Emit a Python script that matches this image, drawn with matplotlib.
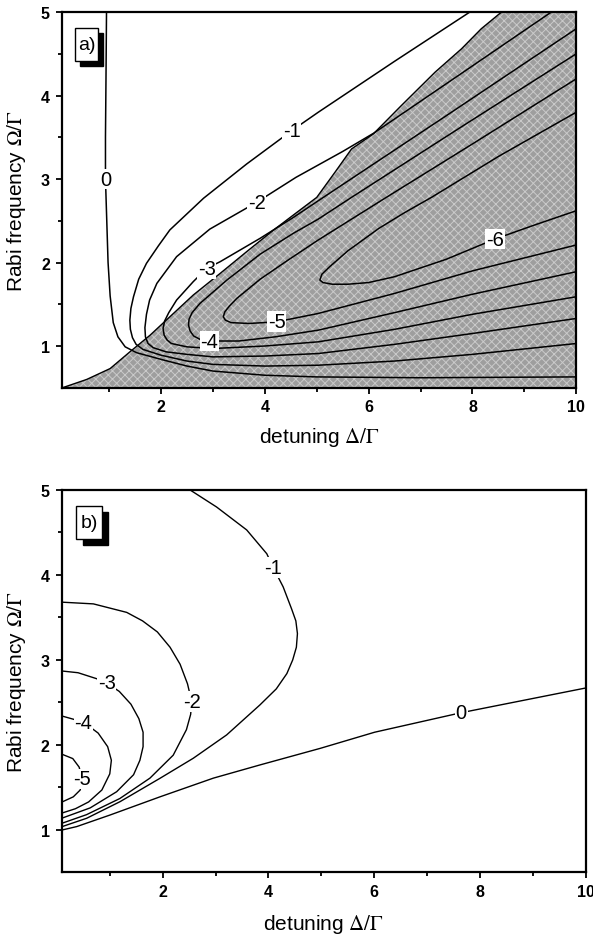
import numpy as np
import matplotlib
matplotlib.use("Agg")
import matplotlib.pyplot as plt
from matplotlib.patches import Rectangle

plt.rcParams['font.family'] = ['Liberation Sans', 'DejaVu Sans']
plt.rcParams['mathtext.fontset'] = 'stix'
plt.rcParams['hatch.linewidth'] = 0.7

# ---------------- panel a) contour curves (detuning, Rabi frequency) ----------------
a_levels = ['0', '-1', '-2', '-3', '-4', '-5', '-6']

a0_x = [0.95, 0.94, 0.93, 0.93, 0.95, 0.98, 1.02, 1.08, 1.17, 1.31, 1.53, 2.0, 2.5, 3.0, 4.0, 5.0, 7.0, 10.0]
a0_y = [5.0, 4.2, 3.5, 3.0, 2.6, 2.0, 1.6, 1.28, 1.11, 0.99, 0.92, 0.84, 0.76, 0.70, 0.65, 0.63, 0.62, 0.63]

a1_x = [7.95, 6.5, 5.03, 4.52, 3.65, 2.82, 2.17, 1.95, 1.72, 1.57, 1.47, 1.42, 1.40, 1.41, 1.45, 1.52, 1.65,
        2.0, 2.5, 3.0, 4.0, 5.03, 6.5, 8.0, 10.0]
a1_y = [5.0, 4.41, 3.80, 3.58, 3.18, 2.77, 2.39, 2.20, 1.99, 1.80, 1.59, 1.45, 1.31, 1.20, 1.10, 1.02, 0.96,
        0.89, 0.82, 0.78, 0.76, 0.77, 0.82, 0.90, 1.03]

a2_x = [9.52, 7.8, 6.1, 5.5, 4.6, 3.84, 2.94, 2.30, 1.92, 1.78, 1.72, 1.69, 1.70, 1.75, 1.85, 2.1, 2.5,
        3.0, 4.0, 5.03, 6.5, 8.0, 10.0]
a2_y = [5.0, 4.27, 3.55, 3.33, 3.02, 2.72, 2.40, 2.07, 1.75, 1.55, 1.38, 1.22, 1.11, 1.03, 0.98, 0.93, 0.90,
        0.87, 0.88, 0.91, 1.02, 1.15, 1.33]

a3_x = [10.0, 7.5, 5.03, 4.55, 3.91, 3.14, 2.88, 2.62, 2.30, 2.15, 2.07, 2.04, 2.06, 2.12, 2.2, 2.5, 3.0, 4.0,
        5.03, 6.5, 8.0, 10.0]
a3_y = [4.80, 3.76, 2.74, 2.54, 2.29, 2.01, 1.93, 1.77, 1.55, 1.40, 1.30, 1.21, 1.13, 1.07, 1.03, 0.99, 0.97, 1.00,
        1.05, 1.20, 1.38, 1.59]

a4_x = [10.0, 7.8, 5.67, 5.03, 4.55, 3.91, 3.27, 2.75, 2.60, 2.54, 2.53, 2.56, 2.63, 2.75, 2.93, 3.5, 4.2, 5.03,
        6.5, 8.0, 10.0]
a4_y = [4.50, 3.63, 2.78, 2.52, 2.35, 2.10, 1.79, 1.51, 1.40, 1.32, 1.25, 1.18, 1.12, 1.08, 1.06, 1.06, 1.11, 1.19,
        1.40, 1.62, 1.89]

a5_x = [10.0, 8.0, 6.34, 5.03, 4.45, 3.91, 3.46, 3.32, 3.23, 3.20, 3.24, 3.35, 3.7, 4.23, 5.03, 6.5, 8.0, 10.0]
a5_y = [4.20, 3.42, 2.78, 2.27, 2.03, 1.80, 1.57, 1.48, 1.41, 1.35, 1.31, 1.28, 1.27, 1.29, 1.39, 1.63, 1.90, 2.21]

a6_x = [10.0, 8.5, 7.21, 6.7, 6.2, 5.6, 5.25, 5.1, 5.06, 5.12, 5.3, 5.6, 6.0, 6.5, 7.5, 8.43, 9.2, 10.0]
a6_y = [3.80, 3.27, 2.78, 2.60, 2.41, 2.14, 1.95, 1.86, 1.79, 1.76, 1.74, 1.74, 1.76, 1.83, 2.04, 2.28, 2.45, 2.62]

# index of the point on each curve where its label sits
a_label_idx = [3, 3, 5, 6, 14, 13, 15]

# edge of the shaded region
shade_x = [0.1, 0.57, 1.02, 1.40, 1.79, 2.17, 2.62, 3.14, 3.65, 4.17, 4.68, 5.0, 5.35, 5.67, 6.09,
           6.63, 7.28, 7.79, 8.17, 8.56]
shade_y = [0.5, 0.60, 0.73, 0.93, 1.13, 1.35, 1.61, 1.87, 2.13, 2.39, 2.63, 2.78, 3.08, 3.36, 3.54,
           3.88, 4.28, 4.56, 4.80, 5.0]

# ---------------- panel b) contour curves ----------------
b_levels = ['0', '-1', '-2', '-3', '-4', '-5']

b0_x = [0.1, 0.375, 1.005, 1.95, 2.96, 3.84, 4.98, 6.01, 7.65, 10.0]
b0_y = [1.0, 1.04, 1.176, 1.39, 1.61, 1.765, 1.96, 2.15, 2.38, 2.67]

b1_x = [0.1, 0.564, 1.194, 1.95, 2.58, 3.21, 3.84, 4.15, 4.35, 4.46, 4.53, 4.55, 4.52, 4.44, 4.28, 4.09, 3.97,
        3.59, 3.02, 2.52]
b1_y = [1.04, 1.138, 1.333, 1.608, 1.844, 2.118, 2.471, 2.66, 2.84, 3.00, 3.15, 3.31, 3.46, 3.60, 3.86, 4.09, 4.25,
        4.53, 4.80, 5.0]

b2_x = [0.1, 0.69, 1.32, 1.62, 1.90, 2.14, 2.33, 2.47, 2.55, 2.53, 2.45, 2.20, 1.76, 1.19, 0.56, 0.1]
b2_y = [3.68, 3.66, 3.56, 3.46, 3.33, 3.15, 2.95, 2.72, 2.51, 2.36, 2.18, 1.88, 1.61, 1.37, 1.18, 1.08]

b3_x = [0.1, 0.4, 0.75, 0.94, 1.18, 1.40, 1.55, 1.63, 1.63, 1.57, 1.45, 1.13, 0.63, 0.1]
b3_y = [2.87, 2.85, 2.78, 2.73, 2.63, 2.48, 2.31, 2.15, 1.98, 1.82, 1.65, 1.45, 1.26, 1.14]

b4_x = [0.1, 0.50, 0.78, 0.96, 1.03, 1.00, 0.85, 0.60, 0.35, 0.1]
b4_y = [2.34, 2.27, 2.14, 1.98, 1.82, 1.66, 1.47, 1.33, 1.25, 1.20]

b5_x = [0.1, 0.30, 0.42, 0.48, 0.44, 0.31, 0.1]
b5_y = [1.89, 1.84, 1.74, 1.60, 1.47, 1.39, 1.33]

b_label_idx = [8, 15, 8, 3, 1, 3]

x_ticks = [2, 4, 6, 8, 10]
x_minor = [1, 3, 5, 7, 9]
y_ticks = [1, 2, 3, 4, 5]
y_minor = [1.5, 2.5, 3.5, 4.5]


def style_axes(ax):
    ax.set_xlim(0.1, 10)
    ax.set_ylim(0.5, 5)
    ax.set_xticks(x_ticks)
    ax.set_xticks(x_minor, minor=True)
    ax.set_yticks(y_ticks)
    ax.set_yticks(y_minor, minor=True)
    ax.tick_params(which='both', direction='out', top=False, right=False, width=1.3)
    ax.tick_params(which='major', length=4.5, labelsize=11.5, pad=3.5)
    ax.tick_params(axis='y', which='major', pad=4.5)
    ax.tick_params(which='minor', length=3.2)
    for lab in ax.get_xticklabels() + ax.get_yticklabels():
        lab.set_fontweight('bold')
    for sp in ax.spines.values():
        sp.set_linewidth(1.6)
    ax.set_xlabel(r'detuning $\Delta/\Gamma$', fontsize=15)
    ax.set_ylabel(r'Rabi frequency $\Omega/\Gamma$', fontsize=15)


def draw_curves(ax, xs_list, ys_list, levels, idx_list, lw):
    for xs, ys, lev, k in zip(xs_list, ys_list, levels, idx_list):
        ax.plot(xs, ys, color='black', lw=lw, solid_joinstyle='round', zorder=3)
        ax.text(xs[k], ys[k], lev, fontsize=14.5, ha='center', va='center', zorder=4,
                bbox=dict(facecolor='white', edgecolor='none', pad=0.6))


def panel_tag(ax, text, x0, y0, w, h, dx, dy):
    ax.add_patch(Rectangle((x0 + dx, y0 - dy), w, h, transform=ax.transAxes,
                           facecolor='black', edgecolor='black', zorder=5, clip_on=False))
    ax.add_patch(Rectangle((x0, y0), w, h, transform=ax.transAxes,
                           facecolor='white', edgecolor='black', lw=1.0, zorder=6, clip_on=False))
    ax.text(x0 + w / 2, y0 + h / 2, text, transform=ax.transAxes, fontsize=14,
            ha='center', va='center', zorder=7)


fig = plt.figure(figsize=(5.93, 9.37), dpi=100)
ax_a = fig.add_axes([0.1052, 0.5851, 0.8666, 0.4010])
ax_b = fig.add_axes([0.1049, 0.0678, 0.8825, 0.4082])

# shaded region in a)
poly_x = shade_x + [10.0, 10.0]
poly_y = shade_y + [5.0, 0.5]
ax_a.fill(poly_x, poly_y, facecolor='#9e9e9e', edgecolor='#cacaca', hatch='xxxx', lw=0, zorder=1)
ax_a.plot(shade_x, shade_y, color='black', lw=1.0, zorder=2)

draw_curves(ax_a, [a0_x, a1_x, a2_x, a3_x, a4_x, a5_x, a6_x],
            [a0_y, a1_y, a2_y, a3_y, a4_y, a5_y, a6_y], a_levels, a_label_idx, 1.1)
draw_curves(ax_b, [b0_x, b1_x, b2_x, b3_x, b4_x, b5_x],
            [b0_y, b1_y, b2_y, b3_y, b4_y, b5_y], b_levels, b_label_idx, 1.0)

style_axes(ax_a)
style_axes(ax_b)
ax_a.xaxis.set_label_coords(0.5, -0.098)
ax_b.xaxis.set_label_coords(0.5, -0.103)
ax_a.yaxis.set_label_coords(-0.067, 0.5)
ax_b.yaxis.set_label_coords(-0.065, 0.5)

panel_tag(ax_a, 'a)', 0.0253, 0.869, 0.0447, 0.088, 0.0097, 0.0133)
panel_tag(ax_b, 'b)', 0.0273, 0.8725, 0.048, 0.0856, 0.0115, 0.0157)

fig.savefig('out.png', dpi=100)
